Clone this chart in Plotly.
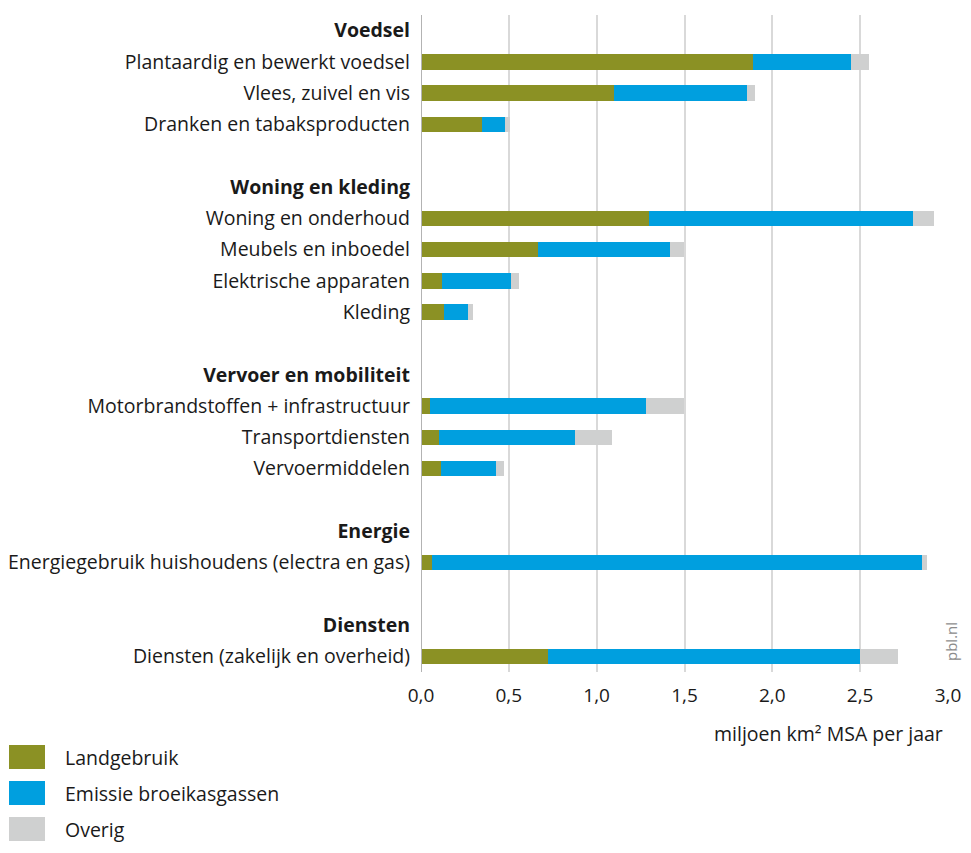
import plotly.graph_objects as go

# ---- data ----
categories = [
    "Voedsel",
    "Plantaardig en bewerkt voedsel",
    "Vlees, zuivel en vis",
    "Dranken en tabaksproducten",
    "",
    "Woning en kleding",
    "Woning en onderhoud",
    "Meubels en inboedel",
    "Elektrische apparaten",
    "Kleding",
    "",
    "Vervoer en mobiliteit",
    "Motorbrandstoffen + infrastructuur",
    "Transportdiensten",
    "Vervoermiddelen",
    "",
    "Energie",
    "Energiegebruik huishoudens (electra en gas)",
    "",
    "Diensten",
    "Diensten (zakelijk en overheid)",
]
is_header = [True, False, False, False, False,
             True, False, False, False, False, False,
             True, False, False, False, False,
             True, False, False,
             True, False]

landgebruik = [None, 1.89, 1.10, 0.35, None,
               None, 1.30, 0.665, 0.12, 0.13, None,
               None, 0.053, 0.10, 0.112, None,
               None, 0.063, None,
               None, 0.722]
emissie = [None, 0.56, 0.755, 0.13, None,
           None, 1.50, 0.755, 0.39, 0.14, None,
           None, 1.227, 0.778, 0.315, None,
           None, 2.79, None,
           None, 1.778]
overig = [None, 0.10, 0.045, 0.027, None,
          None, 0.12, 0.076, 0.047, 0.027, None,
          None, 0.216, 0.21, 0.043, None,
          None, 0.027, None,
          None, 0.218]

series_names = ["Landgebruik", "Emissie broeikasgassen", "Overig"]
series_values = [landgebruik, emissie, overig]
colors = ["#8b9124", "#009fdf", "#cfd0d0"]

x_ticks = [0, 0.5, 1.0, 1.5, 2.0, 2.5, 3.0]
x_title = "miljoen km² MSA per jaar"

# ---- figure ----
ypos = list(range(len(categories)))
ticktext = [f"<b>{c}</b>" if h else c for c, h in zip(categories, is_header)]

fig = go.Figure()
for name, vals, col in zip(series_names, series_values, colors):
    fig.add_trace(go.Bar(
        y=ypos, x=vals, name=name, orientation="h",
        marker=dict(color=col, line=dict(width=0)),
        width=0.5, showlegend=False,
    ))

FONT = "Open Sans"
TXT = "#1a1a1a"
FS = 19.5

# page is offset by the 8px body margin; keep figure inside the window
OFF = 8
W, H = 955, 837
L, R, T, B = 413, 15, 7, 173
plot_w = W - L - R
plot_h = H - T - B


def px(xpage):
    return (xpage - OFF - L) / plot_w


def py(ypage):
    return (H - B - (ypage - OFF)) / plot_h


fig.update_layout(
    barmode="stack",
    width=W, height=H,
    margin=dict(l=L, r=R, t=T, b=B, autoexpand=False),
    plot_bgcolor="white", paper_bgcolor="white",
    separators=",.",
    font=dict(family=FONT, size=FS, color=TXT),
    xaxis=dict(
        range=[0, 3.0], tickvals=x_ticks, tickformat=".1f",
        showgrid=True, gridcolor="#d9d9d9", gridwidth=2,
        zeroline=False, showline=False, ticks="",
        tickfont=dict(size=19, color=TXT),
        ticklabelstandoff=10, automargin=False,
    ),
    yaxis=dict(
        tickvals=ypos, ticktext=ticktext, range=[len(categories) - 0.5, -0.5],
        showgrid=False, zeroline=False, showline=False, ticks="",
        tickfont=dict(size=FS, color=TXT),
        ticklabelstandoff=10, automargin=False,
    ),
)

# axis line at x = 0
fig.add_shape(type="line", xref="x", yref="paper", x0=0, x1=0, y0=0, y1=1,
              line=dict(color="#b3b3b3", width=2))

# axis title
fig.add_annotation(text=x_title, xref="paper", yref="paper", x=px(945), y=py(733),
                   xanchor="right", yanchor="middle", showarrow=False,
                   font=dict(size=FS, color=TXT))

# pbl.nl
fig.add_annotation(text="pbl.nl", xref="paper", yref="paper", x=px(951), y=py(642),
                   xanchor="center", yanchor="middle", textangle=-90, showarrow=False,
                   font=dict(size=15, color="#8c8c8c"))

# legend (manual)
leg_y = [757, 793, 829]
for name, col, yy in zip(series_names, colors, leg_y):
    fig.add_shape(type="rect", xref="paper", yref="paper",
                  x0=px(9), x1=px(45), y0=py(yy + 12), y1=py(yy - 12),
                  fillcolor=col, line=dict(width=0))
    fig.add_annotation(text=name, xref="paper", yref="paper",
                       x=px(63), y=py(yy), xanchor="left", yanchor="middle",
                       showarrow=False, font=dict(size=FS, color=TXT))

fig.write_html("out.html")
